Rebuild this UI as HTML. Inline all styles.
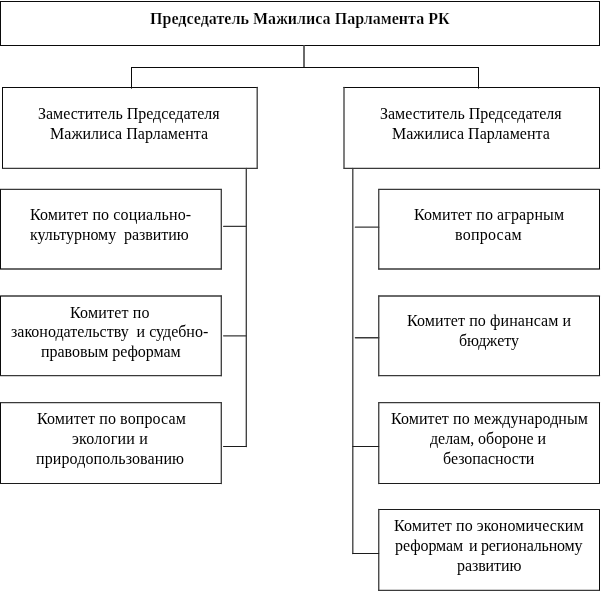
<!DOCTYPE html>
<html lang="ru">
<head>
<meta charset="utf-8">
<title>Структура Мажилиса Парламента РК</title>
<style>
html,body{margin:0;padding:0;background:#fff;}
body{width:602px;height:592px;position:relative;overflow:hidden;font-family:"Liberation Serif","DejaVu Serif",serif;color:#000;}
svg{position:absolute;left:0;top:0;}
.t{position:absolute;white-space:nowrap;will-change:transform;font-size:16px;line-height:20px;height:20px;color:#000;transform:scaleY(1.04);transform-origin:0 15.4px;}
.b{font-weight:bold;color:#000;-webkit-text-stroke:0.18px #fff;transform:none;}
</style>
</head>
<body>
<svg width="602" height="592" viewBox="0 0 602 592" fill="none">
<line x1="0" y1="1.5" x2="600" y2="1.5" stroke="#0a0a0a" stroke-width="1"/>
<line x1="0" y1="45.5" x2="600" y2="45.5" stroke="#0a0a0a" stroke-width="1"/>
<line x1="0.5" y1="1.5" x2="0.5" y2="45.5" stroke="#0a0a0a" stroke-width="1"/>
<line x1="599.5" y1="1.5" x2="599.5" y2="45.5" stroke="#0a0a0a" stroke-width="1"/>
<line x1="2" y1="87.5" x2="257.85" y2="87.5" stroke="#0a0a0a" stroke-width="1"/>
<line x1="2.5" y1="168.3" x2="257.2" y2="168.3" stroke="#3a3a3a" stroke-width="1.3" stroke-linecap="round"/>
<line x1="2.5" y1="87.5" x2="2.5" y2="168.3" stroke="#0a0a0a" stroke-width="1"/>
<line x1="257.2" y1="87.5" x2="257.2" y2="168.3" stroke="#3a3a3a" stroke-width="1.3" stroke-linecap="round"/>
<line x1="343.35" y1="87.5" x2="600" y2="87.5" stroke="#0a0a0a" stroke-width="1"/>
<line x1="344" y1="168.3" x2="599.5" y2="168.3" stroke="#3a3a3a" stroke-width="1.3" stroke-linecap="round"/>
<line x1="344" y1="87.5" x2="344" y2="168.3" stroke="#3a3a3a" stroke-width="1.3" stroke-linecap="round"/>
<line x1="599.5" y1="87.5" x2="599.5" y2="168.3" stroke="#0a0a0a" stroke-width="1"/>
<line x1="0.5" y1="189.3" x2="221.3" y2="189.3" stroke="#3a3a3a" stroke-width="1.3" stroke-linecap="round"/>
<line x1="0.5" y1="269" x2="221.3" y2="269" stroke="#3a3a3a" stroke-width="1.3" stroke-linecap="round"/>
<line x1="0.5" y1="189.3" x2="0.5" y2="269" stroke="#0a0a0a" stroke-width="1"/>
<line x1="221.3" y1="189.3" x2="221.3" y2="269" stroke="#3a3a3a" stroke-width="1.3" stroke-linecap="round"/>
<line x1="0.5" y1="296" x2="221.3" y2="296" stroke="#3a3a3a" stroke-width="1.3" stroke-linecap="round"/>
<line x1="0.5" y1="375.65" x2="221.3" y2="375.65" stroke="#3a3a3a" stroke-width="1.3" stroke-linecap="round"/>
<line x1="0.5" y1="296" x2="0.5" y2="375.65" stroke="#0a0a0a" stroke-width="1"/>
<line x1="221.3" y1="296" x2="221.3" y2="375.65" stroke="#3a3a3a" stroke-width="1.3" stroke-linecap="round"/>
<line x1="0.5" y1="402.65" x2="221.3" y2="402.65" stroke="#3a3a3a" stroke-width="1.3" stroke-linecap="round"/>
<line x1="0.5" y1="483.5" x2="221.3" y2="483.5" stroke="#1c1c1c" stroke-width="1.05" stroke-linecap="round"/>
<line x1="0.5" y1="402.65" x2="0.5" y2="483.5" stroke="#0a0a0a" stroke-width="1"/>
<line x1="221.3" y1="402.65" x2="221.3" y2="483.5" stroke="#3a3a3a" stroke-width="1.3" stroke-linecap="round"/>
<line x1="378.75" y1="189.3" x2="599.5" y2="189.3" stroke="#3a3a3a" stroke-width="1.3" stroke-linecap="round"/>
<line x1="378.75" y1="269" x2="599.5" y2="269" stroke="#3a3a3a" stroke-width="1.3" stroke-linecap="round"/>
<line x1="378.75" y1="189.3" x2="378.75" y2="269" stroke="#3a3a3a" stroke-width="1.3" stroke-linecap="round"/>
<line x1="599.5" y1="189.3" x2="599.5" y2="269" stroke="#0a0a0a" stroke-width="1"/>
<line x1="378.75" y1="296" x2="599.5" y2="296" stroke="#3a3a3a" stroke-width="1.3" stroke-linecap="round"/>
<line x1="378.75" y1="375.65" x2="599.5" y2="375.65" stroke="#3a3a3a" stroke-width="1.3" stroke-linecap="round"/>
<line x1="378.75" y1="296" x2="378.75" y2="375.65" stroke="#3a3a3a" stroke-width="1.3" stroke-linecap="round"/>
<line x1="599.5" y1="296" x2="599.5" y2="375.65" stroke="#0a0a0a" stroke-width="1"/>
<line x1="378.75" y1="402.65" x2="599.5" y2="402.65" stroke="#3a3a3a" stroke-width="1.3" stroke-linecap="round"/>
<line x1="378.75" y1="483.5" x2="599.5" y2="483.5" stroke="#1c1c1c" stroke-width="1.05" stroke-linecap="round"/>
<line x1="378.75" y1="402.65" x2="378.75" y2="483.5" stroke="#3a3a3a" stroke-width="1.3" stroke-linecap="round"/>
<line x1="599.5" y1="402.65" x2="599.5" y2="483.5" stroke="#0a0a0a" stroke-width="1"/>
<line x1="378.75" y1="509.5" x2="599.5" y2="509.5" stroke="#1c1c1c" stroke-width="1.05" stroke-linecap="round"/>
<line x1="378.1" y1="590.3" x2="600" y2="590.3" stroke="#0a0a0a" stroke-width="1"/>
<line x1="378.75" y1="509.5" x2="378.75" y2="590.3" stroke="#3a3a3a" stroke-width="1.3" stroke-linecap="round"/>
<line x1="599.5" y1="509.5" x2="599.5" y2="590.3" stroke="#0a0a0a" stroke-width="1"/>
<line x1="304" y1="45.5" x2="304" y2="67.5" stroke="#6a6a6a" stroke-width="2"/>
<line x1="131" y1="67.5" x2="479" y2="67.5" stroke="#0a0a0a" stroke-width="1"/>
<line x1="131.5" y1="67.5" x2="131.5" y2="88.6" stroke="#0a0a0a" stroke-width="1"/>
<line x1="478.5" y1="67.5" x2="478.5" y2="88.6" stroke="#0a0a0a" stroke-width="1"/>
<line x1="246.3" y1="168.3" x2="246.3" y2="446.5" stroke="#3a3a3a" stroke-width="1.3" stroke-linecap="round"/>
<line x1="223.6" y1="226.35" x2="246.3" y2="226.35" stroke="#3a3a3a" stroke-width="1.3" stroke-linecap="round"/>
<line x1="223.6" y1="335.8" x2="246.3" y2="335.8" stroke="#3a3a3a" stroke-width="1.3" stroke-linecap="round"/>
<line x1="223.5" y1="446.5" x2="246.3" y2="446.5" stroke="#1c1c1c" stroke-width="1.05" stroke-linecap="round"/>
<line x1="352.8" y1="168.3" x2="352.8" y2="553.5" stroke="#3a3a3a" stroke-width="1.3" stroke-linecap="round"/>
<line x1="355.4" y1="227.2" x2="378.75" y2="227.2" stroke="#3a3a3a" stroke-width="1.3" stroke-linecap="round"/>
<line x1="355.4" y1="337.75" x2="378.75" y2="337.75" stroke="#3a3a3a" stroke-width="1.3" stroke-linecap="round"/>
<line x1="352.8" y1="446.5" x2="378.75" y2="446.5" stroke="#1c1c1c" stroke-width="1.05" stroke-linecap="round"/>
<line x1="352.8" y1="553.5" x2="378.75" y2="553.5" stroke="#1c1c1c" stroke-width="1.05" stroke-linecap="round"/>
</svg>
<div class="t b" style="left:150.3px;top:8.6px;letter-spacing:0.03px;">Председатель Мажилиса Парламента РК</div>
<div class="t" style="left:38.1px;top:103.6px;letter-spacing:-0.01px;">Заместитель Председателя</div>
<div class="t" style="left:50.1px;top:123.6px;letter-spacing:0.03px;">Мажилиса Парламента</div>
<div class="t" style="left:380.3px;top:103.6px;letter-spacing:-0.01px;">Заместитель Председателя</div>
<div class="t" style="left:392.3px;top:123.6px;letter-spacing:0.02px;">Мажилиса Парламента</div>
<div class="t" style="left:29.5px;top:204.6px;letter-spacing:0.13px;">Комитет по социально-</div>
<div class="t" style="left:30.3px;top:224.6px;letter-spacing:-0.05px;">культурному&nbsp;&nbsp;развитию</div>
<div class="t" style="left:70.3px;top:302.6px;letter-spacing:0.18px;">Комитет по</div>
<div class="t" style="left:11.4px;top:321.6px;letter-spacing:-0.01px;">законодательству&nbsp;&nbsp;и судебно-</div>
<div class="t" style="left:41.4px;top:341.6px;letter-spacing:-0.04px;">правовым реформам</div>
<div class="t" style="left:36.5px;top:408.6px;letter-spacing:0.11px;">Комитет по вопросам</div>
<div class="t" style="left:72.1px;top:428.6px;letter-spacing:0.22px;">экологии и</div>
<div class="t" style="left:36.1px;top:448.6px;letter-spacing:0.11px;">природопользованию</div>
<div class="t" style="left:413.7px;top:204.6px;letter-spacing:0.11px;">Комитет по аграрным</div>
<div class="t" style="left:455.4px;top:224.6px;letter-spacing:0.24px;">вопросам</div>
<div class="t" style="left:406.8px;top:310.6px;letter-spacing:0.1px;">Комитет по финансам и</div>
<div class="t" style="left:459.0px;top:330.6px;letter-spacing:-0.02px;">бюджету</div>
<div class="t" style="left:390.9px;top:408.6px;letter-spacing:0.08px;">Комитет по международным</div>
<div class="t" style="left:430.2px;top:428.6px;letter-spacing:-0.05px;">делам, обороне и</div>
<div class="t" style="left:443.3px;top:448.6px;letter-spacing:-0.04px;">безопасности</div>
<div class="t" style="left:394.0px;top:515.6px;letter-spacing:0.08px;">Комитет по экономическим</div>
<div class="t" style="left:395.0px;top:535.6px;letter-spacing:-0.06px;">реформам</div>
<div class="t" style="left:468.5px;top:535.6px;letter-spacing:1.3px;">и</div>
<div class="t" style="left:480.5px;top:535.6px;letter-spacing:-0.18px;">региональному</div>
<div class="t" style="left:456.7px;top:555.6px;letter-spacing:-0.09px;">развитию</div>
</body>
</html>
